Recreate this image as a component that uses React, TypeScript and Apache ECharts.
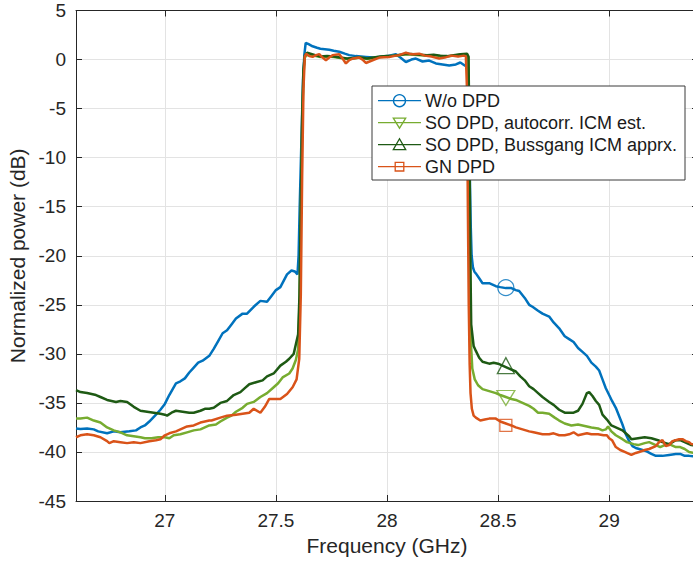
import React, { useEffect, useRef } from "react";
import * as echarts from "echarts";

// ---- data ----
const seriesNames = [
  "W/o DPD",
  "SO DPD, autocorr. ICM est.",
  "SO DPD, Bussgang ICM apprx.",
  "GN DPD",
];
const seriesColors = ["#0072BD", "#77AC30", "#1E5A14", "#D95319"];

const woDpd: [number, number][] = [
  [26.6, -37.6], [26.62, -37.65], [26.65, -37.6], [26.68, -37.7], [26.7, -37.9], [26.74, -38.1],
  [26.77, -37.9], [26.8, -38.0], [26.84, -37.9], [26.87, -37.8], [26.89, -37.5], [26.91, -37.3],
  [26.93, -36.9], [26.96, -36.2], [26.98, -35.7], [27.0, -35.1], [27.02, -34.2], [27.05, -33.0],
  [27.07, -32.8], [27.09, -32.5], [27.11, -31.9], [27.13, -31.4], [27.15, -30.9], [27.17, -30.7],
  [27.2, -30.2], [27.22, -29.5], [27.24, -28.7], [27.26, -27.9], [27.28, -27.6], [27.3, -27.0],
  [27.32, -26.4], [27.35, -25.9], [27.37, -25.9], [27.4, -25.2], [27.43, -24.6], [27.46, -24.7],
  [27.48, -24.1], [27.5, -23.5], [27.52, -23.2], [27.55, -21.9], [27.57, -21.5], [27.585, -21.6],
  [27.597, -21.9], [27.602, -20.0], [27.607, -15.0], [27.615, -8.0], [27.622, -2.0], [27.628, 0.5],
  [27.634, 1.7], [27.645, 1.6], [27.665, 1.35], [27.685, 1.2], [27.7, 1.1], [27.74, 1.0],
  [27.76, 0.9], [27.785, 0.8], [27.81, 0.6], [27.83, 0.45], [27.86, 0.35], [27.905, 0.27],
  [27.94, 0.2], [27.965, 0.27], [28.0, 0.35], [28.04, 0.55], [28.06, 0.2], [28.085, -0.25],
  [28.11, 0.0], [28.13, 0.1], [28.16, -0.2], [28.19, -0.1], [28.22, -0.4], [28.25, -0.5],
  [28.28, -0.6], [28.31, -0.5], [28.33, -0.3], [28.35, -0.6], [28.365, -0.8], [28.369, -5.0],
  [28.373, -12.0], [28.377, -17.0], [28.381, -20.0], [28.387, -21.2], [28.393, -21.6], [28.4, -21.8],
  [28.415, -22.3], [28.43, -22.8], [28.46, -22.8], [28.49, -23.1], [28.51, -23.2], [28.535, -23.3],
  [28.56, -23.3], [28.58, -23.5], [28.595, -23.6], [28.62, -24.3], [28.64, -25.0], [28.655, -25.2],
  [28.68, -25.6], [28.7, -25.9], [28.73, -26.2], [28.75, -26.8], [28.775, -27.4], [28.8, -28.2],
  [28.82, -28.5], [28.84, -28.8], [28.86, -29.4], [28.88, -29.8], [28.9, -30.2], [28.92, -30.9],
  [28.94, -31.3], [28.955, -31.7], [28.97, -32.6], [28.985, -33.5], [29.0, -34.2], [29.013, -34.8],
  [29.03, -35.5], [29.06, -37.2], [29.075, -38.2], [29.09, -38.9], [29.105, -39.4], [29.12, -39.6],
  [29.135, -39.7], [29.165, -39.9], [29.19, -40.2], [29.21, -40.4], [29.24, -40.4], [29.27, -40.3],
  [29.3, -40.2], [29.32, -40.2], [29.34, -40.4], [29.36, -40.4], [29.4, -40.5],
];

const soAutocorr: [number, number][] = [
  [26.6, -36.6], [26.62, -36.6], [26.65, -36.5], [26.68, -36.8], [26.71, -37.0], [26.74, -37.5],
  [26.77, -37.8], [26.8, -38.0], [26.83, -38.3], [26.86, -38.4], [26.89, -38.5], [26.91, -38.6],
  [26.94, -38.6], [26.97, -38.5], [27.0, -38.5], [27.02, -38.6], [27.04, -38.3], [27.07, -38.2],
  [27.1, -38.0], [27.13, -37.8], [27.16, -37.7], [27.2, -37.3], [27.23, -37.2], [27.25, -36.9],
  [27.28, -36.5], [27.3, -36.3], [27.32, -35.9], [27.35, -35.5], [27.37, -35.1], [27.4, -34.9],
  [27.43, -34.4], [27.46, -34.0], [27.49, -33.4], [27.51, -33.0], [27.53, -32.4], [27.56, -32.0],
  [27.575, -31.5], [27.59, -30.6], [27.6, -29.5], [27.606, -25.0], [27.612, -16.0], [27.618, -7.0],
  [27.624, -1.5], [27.63, 0.2], [27.64, 0.5], [27.67, 0.4], [27.7, 0.25], [27.73, 0.3],
  [27.76, 0.25], [27.79, 0.15], [27.82, 0.05], [27.85, 0.1], [27.88, 0.2], [27.91, 0.05],
  [27.94, 0.15], [27.97, 0.25], [28.0, 0.3], [28.03, 0.4], [28.06, 0.45], [28.09, 0.55],
  [28.12, 0.5], [28.15, 0.45], [28.18, 0.4], [28.21, 0.45], [28.24, 0.35], [28.27, 0.3],
  [28.3, 0.4], [28.33, 0.5], [28.36, 0.5], [28.366, 0.2], [28.37, -10.0], [28.374, -22.0],
  [28.378, -29.0], [28.384, -31.5], [28.395, -32.6], [28.41, -33.2], [28.43, -33.6], [28.46, -33.8],
  [28.49, -34.0], [28.51, -34.2], [28.535, -34.4], [28.56, -34.6], [28.58, -34.7], [28.61, -35.0],
  [28.64, -35.3], [28.66, -35.6], [28.68, -36.0], [28.7, -36.0], [28.73, -36.1], [28.755, -36.5],
  [28.775, -36.8], [28.8, -37.1], [28.83, -37.3], [28.86, -37.2], [28.88, -37.3], [28.9, -37.4],
  [28.92, -37.5], [28.95, -37.6], [28.97, -37.8], [28.985, -37.7], [28.995, -37.4], [29.01, -37.9],
  [29.03, -38.3], [29.06, -38.7], [29.08, -39.0], [29.11, -39.2], [29.13, -39.3], [29.16, -39.1],
  [29.18, -39.0], [29.21, -39.3], [29.23, -39.5], [29.25, -39.3], [29.27, -39.2], [29.3, -39.5],
  [29.32, -39.5], [29.34, -39.7], [29.36, -40.0], [29.4, -40.2],
];

const soBussgang: [number, number][] = [
  [26.6, -33.7], [26.62, -33.9], [26.65, -34.0], [26.69, -34.2], [26.71, -34.4], [26.74, -34.7],
  [26.78, -34.9], [26.8, -34.8], [26.83, -34.9], [26.86, -35.4], [26.89, -35.8], [26.92, -35.9],
  [26.95, -36.0], [26.98, -36.1], [27.0, -36.2], [27.01, -36.3], [27.03, -36.0], [27.05, -35.8],
  [27.08, -35.9], [27.11, -36.0], [27.13, -36.0], [27.16, -35.8], [27.18, -35.6], [27.2, -35.6],
  [27.22, -35.5], [27.25, -35.0], [27.28, -34.8], [27.31, -34.2], [27.34, -33.9], [27.36, -33.5],
  [27.38, -33.1], [27.41, -32.9], [27.44, -32.7], [27.46, -32.3], [27.49, -32.0], [27.52, -31.2],
  [27.545, -30.8], [27.56, -30.5], [27.58, -30.0], [27.59, -29.0], [27.6, -28.0], [27.606, -24.0],
  [27.612, -15.0], [27.618, -6.0], [27.624, -1.0], [27.63, 0.4], [27.64, 0.7], [27.67, 0.5],
  [27.7, 0.3], [27.73, 0.35], [27.76, 0.3], [27.79, 0.2], [27.82, 0.1], [27.85, 0.15],
  [27.88, 0.2], [27.91, 0.1], [27.94, 0.2], [27.97, 0.3], [28.0, 0.35], [28.03, 0.4],
  [28.06, 0.5], [28.09, 0.6], [28.12, 0.55], [28.15, 0.5], [28.18, 0.45], [28.21, 0.5],
  [28.24, 0.4], [28.27, 0.35], [28.3, 0.45], [28.33, 0.55], [28.36, 0.6], [28.367, 0.3],
  [28.371, -8.0], [28.375, -20.0], [28.379, -27.0], [28.39, -29.2], [28.4, -29.7], [28.415, -30.4],
  [28.43, -30.8], [28.46, -31.0], [28.48, -30.9], [28.5, -31.0], [28.52, -31.2], [28.55, -31.5],
  [28.58, -31.8], [28.6, -32.3], [28.62, -32.7], [28.64, -33.3], [28.66, -33.6], [28.68, -34.0],
  [28.7, -34.4], [28.73, -34.9], [28.75, -35.2], [28.775, -35.7], [28.8, -36.0], [28.82, -36.0],
  [28.84, -36.0], [28.86, -35.8], [28.88, -35.1], [28.9, -34.0], [28.91, -33.9], [28.925, -34.3],
  [28.94, -34.8], [28.955, -35.2], [28.97, -36.2], [28.99, -36.7], [29.01, -37.3], [29.03, -37.5],
  [29.06, -37.8], [29.09, -38.4], [29.1, -38.7], [29.13, -38.6], [29.16, -38.5], [29.19, -38.6],
  [29.22, -38.8], [29.24, -39.0], [29.27, -39.2], [29.3, -38.8], [29.32, -38.8], [29.35, -39.1],
  [29.37, -39.3], [29.4, -39.4],
];

const gnDpd: [number, number][] = [
  [26.6, -38.5], [26.62, -38.3], [26.65, -38.2], [26.68, -38.3], [26.71, -38.5], [26.74, -38.9],
  [26.75, -39.1], [26.77, -38.9], [26.8, -39.0], [26.83, -39.1], [26.86, -39.0], [26.89, -39.1],
  [26.93, -38.9], [26.96, -38.8], [26.98, -38.7], [27.0, -38.3], [27.02, -38.1], [27.05, -37.9],
  [27.07, -37.7], [27.1, -37.4], [27.13, -37.3], [27.16, -37.0], [27.2, -36.8], [27.21, -36.8],
  [27.25, -36.5], [27.28, -36.3], [27.32, -36.2], [27.35, -36.1], [27.38, -36.0], [27.4, -35.6],
  [27.43, -36.0], [27.45, -35.4], [27.47, -34.6], [27.5, -34.6], [27.52, -34.6], [27.55, -34.1],
  [27.575, -33.4], [27.593, -32.6], [27.605, -30.5], [27.612, -24.0], [27.618, -12.0], [27.624, -3.0],
  [27.63, 0.3], [27.636, 0.6], [27.65, 0.35], [27.665, 0.27], [27.68, 0.45], [27.695, 0.55],
  [27.71, 0.2], [27.725, -0.07], [27.74, 0.2], [27.755, 0.45], [27.785, 0.55], [27.8, 0.1],
  [27.815, -0.4], [27.83, -0.05], [27.845, 0.1], [27.875, 0.2], [27.89, 0.0], [27.905, -0.35],
  [27.935, -0.07], [27.965, 0.2], [28.01, 0.27], [28.04, 0.4], [28.055, 0.45], [28.085, 0.7],
  [28.1, 0.6], [28.115, 0.55], [28.145, 0.6], [28.17, 0.4], [28.2, 0.3], [28.235, 0.1],
  [28.26, 0.2], [28.29, 0.4], [28.32, 0.3], [28.345, 0.4], [28.355, 0.35], [28.36, -3.0],
  [28.364, -15.0], [28.368, -25.0], [28.372, -31.0], [28.376, -34.0], [28.382, -35.6], [28.39, -36.3],
  [28.4, -36.5], [28.42, -36.8], [28.44, -36.7], [28.46, -36.6], [28.49, -36.6], [28.51, -36.9],
  [28.535, -37.1], [28.56, -37.3], [28.58, -37.5], [28.61, -37.7], [28.64, -37.9], [28.66, -38.0],
  [28.68, -38.1], [28.7, -38.2], [28.73, -38.2], [28.75, -38.1], [28.775, -38.3], [28.8, -38.3],
  [28.82, -38.2], [28.84, -38.0], [28.86, -38.3], [28.88, -38.2], [28.9, -38.1], [28.92, -38.2],
  [28.95, -38.2], [28.975, -38.3], [28.99, -38.3], [29.0, -38.6], [29.013, -38.8], [29.03, -39.5],
  [29.05, -39.8], [29.07, -40.0], [29.09, -40.2], [29.1, -40.3], [29.12, -40.1], [29.135, -40.0],
  [29.16, -39.8], [29.18, -39.7], [29.21, -39.4], [29.225, -39.0], [29.24, -38.8], [29.255, -39.4],
  [29.27, -39.3], [29.285, -38.9], [29.3, -38.8], [29.315, -38.7], [29.33, -38.7], [29.345, -38.9],
  [29.36, -39.0], [29.37, -39.2], [29.4, -39.3],
];

const markerFreq = [28.535, 28.535, 28.535, 28.535];
const markerPower = [-23.25, -34.5, -31.2, -37.3];

const xMin = 26.6;
const xMax = 29.4;
const yMin = -45;
const yMax = 5;
const yStep = 5;

const FONT = '"Liberation Sans", Arial, Helvetica, sans-serif';
const AXIS_COLOR = "#262626";
const GRID_COLOR = "#e3e3e3";

export default function App() {
  const ref = useRef<HTMLDivElement>(null);

  useEffect(() => {
    if (!ref.current) return;
    const chart = echarts.init(ref.current, undefined, { renderer: "svg" });
    const allData = [woDpd, soAutocorr, soBussgang, gnDpd];

    const lineSeries = allData.map((d, i) => ({
      type: "line",
      name: seriesNames[i],
      data: d,
      xAxisIndex: 0,
      yAxisIndex: 0,
      showSymbol: false,
      symbol: "none",
      lineStyle: { color: seriesColors[i], width: 2.5 },
      itemStyle: { color: seriesColors[i] },
      z: 2 + i,
      emphasis: { disabled: true },
      silent: true,
    }));

    const markerSymbol = ["circle", "triangle", "triangle", "rect"];
    const markerSize: any[] = [16, [18, 15], [17, 16], 12];
    const markerRotate = [0, 180, 0, 0];
    const markerSeries = markerFreq.map((f, i) => ({
      type: "scatter",
      name: seriesNames[i] + " marker",
      data: [[f, markerPower[i]]],
      symbol: markerSymbol[i],
      symbolSize: markerSize[i],
      symbolRotate: markerRotate[i],
      itemStyle: {
        color: "rgba(0,0,0,0)",
        borderColor: seriesColors[i],
        borderWidth: 1.3,
      },
      z: 10,
      silent: true,
    }));

    // legend (MATLAB-style box), drawn above the lines
    const LZ = 200;
    const legX = 372;
    const legY = 86;
    const legW = 313;
    const legH = 94;
    const rowY = (i: number) => legY + 14.7 + i * 22;
    const mx = 399.5;
    const legendChildren: any[] = [
      {
        type: "rect",
        z: LZ,
        shape: { x: legX, y: legY, width: legW, height: legH },
        style: { fill: "#ffffff", stroke: "#3a3a3a", lineWidth: 1 },
      },
    ];
    seriesNames.forEach((name, i) => {
      const y = rowY(i);
      const c = seriesColors[i];
      legendChildren.push({
        type: "line",
        z: LZ + 1,
        shape: { x1: 378, y1: y, x2: 421, y2: y },
        style: { stroke: c, lineWidth: 1.3 },
      });
      const ms = { fill: "none", stroke: c, lineWidth: 1.3 };
      if (i === 0) {
        legendChildren.push({ type: "circle", z: LZ + 2, shape: { cx: mx, cy: y, r: 6 }, style: ms });
      } else if (i === 1) {
        legendChildren.push({
          type: "polygon",
          z: LZ + 2,
          shape: { points: [[mx - 6.2, y - 4.5], [mx + 6.2, y - 4.5], [mx, y + 5.5]] },
          style: ms,
        });
      } else if (i === 2) {
        legendChildren.push({
          type: "polygon",
          z: LZ + 2,
          shape: { points: [[mx, y - 6], [mx - 6.2, y + 5], [mx + 6.2, y + 5]] },
          style: ms,
        });
      } else {
        legendChildren.push({
          type: "rect",
          z: LZ + 2,
          shape: { x: mx - 4.3, y: y - 4.3, width: 8.6, height: 8.6 },
          style: ms,
        });
      }
      legendChildren.push({
        type: "text",
        z: LZ + 2,
        x: 425,
        y: y,
        style: {
          text: name,
          font: `18px ${FONT}`,
          fill: "#1a1a1a",
          verticalAlign: "middle",
          align: "left",
        },
      });
    });

    const baseAxisLine = { show: true, onZero: false, lineStyle: { color: AXIS_COLOR, width: 1 } };
    const baseTick = { show: true, inside: true, length: 6, lineStyle: { color: AXIS_COLOR, width: 1 } };

    const option: any = {
      animation: false,
      backgroundColor: "#ffffff",
      textStyle: { fontFamily: FONT },
      grid: {
        left: 76,
        top: 10.5,
        width: 622,
        height: 490.5,
        containLabel: false,
        outerBoundsMode: "none",
        show: false,
      },
      xAxis: [
        {
          type: "value",
          position: "bottom",
          min: xMin,
          max: xMax,
          axisLine: baseAxisLine,
          axisTick: baseTick,
          axisLabel: {
            color: AXIS_COLOR,
            fontSize: 19,
            fontFamily: FONT,
            margin: 10,
            showMinLabel: false,
            showMaxLabel: false,
            formatter: (v: number) =>
              Math.abs(v * 2 - Math.round(v * 2)) < 1e-6 ? String(v) : "",
          },
          splitLine: { show: true, lineStyle: { color: GRID_COLOR, width: 1 } },
          name: "Frequency (GHz)",
          nameLocation: "middle",
          nameGap: 34,
          nameTextStyle: { color: AXIS_COLOR, fontSize: 21, fontFamily: FONT },
        },
        {
          type: "value",
          position: "top",
          min: xMin,
          max: xMax,
          axisLine: baseAxisLine,
          axisTick: baseTick,
          axisLabel: { show: false },
          splitLine: { show: false },
        },
      ],
      yAxis: [
        {
          type: "value",
          position: "left",
          min: yMin,
          max: yMax,
          interval: yStep,
          axisLine: baseAxisLine,
          axisTick: baseTick,
          axisLabel: {
            color: AXIS_COLOR,
            fontSize: 19,
            fontFamily: FONT,
            margin: 10,
            padding: [4, 0, 0, 0],
          },
          splitLine: { show: true, lineStyle: { color: GRID_COLOR, width: 1 } },
          name: "Normalized power (dB)",
          nameLocation: "middle",
          nameGap: 44,
          nameTextStyle: { color: AXIS_COLOR, fontSize: 21, fontFamily: FONT },
        },
        {
          type: "value",
          position: "right",
          min: yMin,
          max: yMax,
          interval: yStep,
          axisLine: baseAxisLine,
          axisTick: baseTick,
          axisLabel: { show: false },
          splitLine: { show: false },
        },
      ],
      series: [...lineSeries, ...markerSeries],
      graphic: [{ type: "group", z: LZ, children: legendChildren }],
    };

    chart.setOption(option);
    return () => chart.dispose();
  }, []);

  return (
    <div
      ref={ref}
      style={{ position: "fixed", left: 0, top: 0, width: 693, height: 563, background: "#fff" }}
    />
  );
}
